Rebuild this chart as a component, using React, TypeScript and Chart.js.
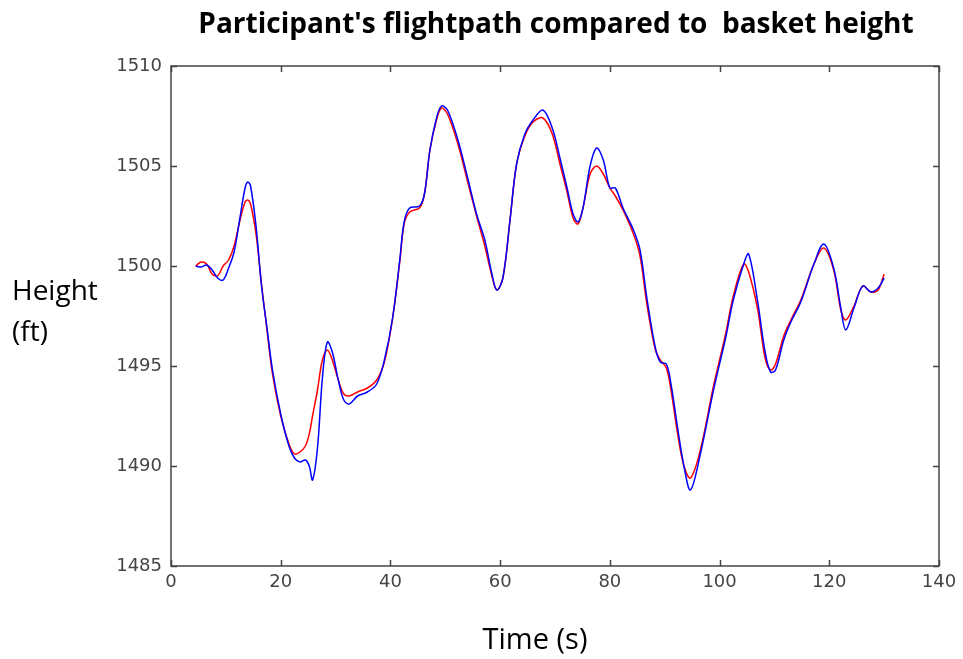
import React, { useEffect, useRef } from "react";
import { Chart, registerables } from "chart.js";

Chart.register(...registerables);

const timeS = [4.5, 5.5, 6.5, 7.5, 8.5, 9.5, 10.5, 11.5, 12.5, 13.5, 14.0, 14.5, 15.5, 16.5, 17.5, 18.5, 20, 21.5, 22.5, 23.5, 24.5, 25.2, 25.8, 26.7, 27.6, 28.5, 29.4, 30.5, 31.5, 32.5, 34, 35.8, 37.5, 38.9, 40.4, 41.7, 42.5, 43.5, 45.3, 46.2, 47.2, 48.4, 49.3, 50.4, 52.3, 53.9, 55.7, 57.2, 58.5, 59.4, 60.5, 61.8, 63, 64.5, 66, 67.8, 69.5, 70.9, 72.2, 73.3, 74.2, 75.1, 76.4, 77.6, 78.8, 80, 81, 82.4, 84.3, 85.5, 86.8, 88.3, 89.2, 90.3, 91.2, 92.3, 93.5, 94.7, 96.5, 98.9, 101.1, 102.5, 104.4, 105.3, 106.9, 108.3, 109.3, 110.2, 111.7, 113, 114.8, 117.2, 119, 120.8, 122.1, 123, 124.5, 126.1, 127.6, 128.9, 130];

const participantHeight = [1500.0, 1499.95, 1500.05, 1499.8, 1499.4, 1499.3, 1499.9, 1500.7, 1502.3, 1503.9, 1504.2, 1504.0, 1502.0, 1499.0, 1496.9, 1494.8, 1492.6, 1491.0, 1490.4, 1490.2, 1490.3, 1490.0, 1489.3, 1490.9, 1494.4, 1496.2, 1495.7, 1494.3, 1493.3, 1493.1, 1493.5, 1493.7, 1494.1, 1495.3, 1497.4, 1500.3, 1502.2, 1502.9, 1503.0, 1503.6, 1505.8, 1507.4, 1508.0, 1507.8, 1506.3, 1504.6, 1502.6, 1501.3, 1499.6, 1498.8, 1499.4, 1502.3, 1505.1, 1506.6, 1507.3, 1507.8, 1506.9, 1505.4, 1503.9, 1502.6, 1502.2, 1502.9, 1505.0, 1505.9, 1505.3, 1503.9, 1503.9, 1502.9, 1501.8, 1500.8, 1498.3, 1495.9, 1495.2, 1495.1, 1494.0, 1492.0, 1490.0, 1488.8, 1490.6, 1493.8, 1496.4, 1498.3, 1500.1, 1500.6, 1498.3, 1495.7, 1494.7, 1494.8, 1496.3, 1497.2, 1498.2, 1500.1, 1501.1, 1499.9, 1497.9, 1496.8, 1497.9, 1499.0, 1498.7, 1498.9, 1499.4];

const basketHeight = [1500.0, 1500.2, 1500.1, 1499.6, 1499.5, 1500.0, 1500.3, 1501.0, 1502.2, 1503.2, 1503.3, 1503.1, 1501.6, 1499.1, 1496.8, 1494.6, 1492.5, 1491.1, 1490.6, 1490.7, 1491.0, 1491.6, 1492.5, 1493.8, 1495.3, 1495.8, 1495.3, 1494.3, 1493.6, 1493.5, 1493.7, 1493.9, 1494.3, 1495.2, 1497.4, 1500.2, 1502.1, 1502.7, 1502.9, 1503.6, 1505.8, 1507.3, 1507.9, 1507.6, 1506.1, 1504.4, 1502.5, 1501.0, 1499.5, 1498.8, 1499.4, 1502.3, 1505.1, 1506.5, 1507.2, 1507.4, 1506.6, 1505.1, 1503.7, 1502.4, 1502.1, 1502.9, 1504.6, 1505.0, 1504.6, 1503.9, 1503.5, 1502.8, 1501.6, 1500.5, 1498.0, 1495.8, 1495.3, 1494.9, 1493.7, 1491.7, 1490.0, 1489.4, 1490.8, 1494.0, 1496.6, 1498.5, 1500.1, 1499.7, 1497.9, 1495.4, 1494.8, 1495.1, 1496.5, 1497.3, 1498.3, 1500.1, 1500.9, 1499.8, 1497.8, 1497.3, 1498.0, 1499.0, 1498.7, 1498.8, 1499.6];

const xTicks = [0, 20, 40, 60, 80, 100, 120, 140];
const yTicks = [1485, 1490, 1495, 1500, 1505, 1510];

const titleText = "Participant's flightpath compared to  basket height";
const xTitle = "Time (s)";
const yTitleLines = ["Height", "(ft)"];

const framePlugin = {
  id: "framePlugin",
  afterDraw(chart: any) {
    const ctx = chart.ctx;
    const { left, right, top, bottom } = chart.chartArea;
    const xs = chart.scales.x;
    const ys = chart.scales.y;
    ctx.save();
    ctx.strokeStyle = "#444";
    ctx.lineWidth = 1.5;
    ctx.strokeRect(left, top, right - left, bottom - top);
    const tl = 6;
    ctx.beginPath();
    xTicks.forEach((v) => {
      const px = Math.round(xs.getPixelForValue(v)) + 0.5;
      ctx.moveTo(px, bottom);
      ctx.lineTo(px, bottom - tl);
      ctx.moveTo(px, top);
      ctx.lineTo(px, top + tl);
    });
    yTicks.forEach((v) => {
      const py = Math.round(ys.getPixelForValue(v)) + 0.5;
      ctx.moveTo(left, py);
      ctx.lineTo(left + tl, py);
      ctx.moveTo(right, py);
      ctx.lineTo(right - tl, py);
    });
    ctx.stroke();

    ctx.fillStyle = "#000";
    ctx.textAlign = "center";
    ctx.textBaseline = "middle";
    ctx.font = "bold 28px 'Open Sans', sans-serif";
    ctx.fillText(titleText, 556, 25);
    ctx.font = "29px 'Open Sans', sans-serif";
    ctx.fillText(xTitle, 535, 641);
    ctx.textAlign = "left";
    ctx.font = "28px 'Open Sans', sans-serif";
    ctx.fillText(yTitleLines[0], 12, 292);
    ctx.fillText(yTitleLines[1], 12, 333);
    ctx.restore();
  },
};

export default function App() {
  const ref = useRef<HTMLCanvasElement | null>(null);
  useEffect(() => {
    document.body.style.margin = "0";
    const canvas = ref.current!;
    const chart = new Chart(canvas, {
      type: "scatter",
      data: {
        datasets: [
          {
            label: "Participant",
            data: timeS.map((t, i) => ({ x: t, y: participantHeight[i] })),
            showLine: true,
            borderColor: "#0000ff",
            borderWidth: 1.5,
            pointRadius: 0,
            tension: 0.35,
          },
          {
            label: "Basket",
            data: timeS.map((t, i) => ({ x: t, y: basketHeight[i] })),
            showLine: true,
            borderColor: "#ff0000",
            borderWidth: 1.5,
            pointRadius: 0,
            tension: 0.35,
          },
        ],
      },
      options: {
        animation: false,
        responsive: false,
        maintainAspectRatio: false,
        layout: { padding: { top: 66, right: 24, left: 0, bottom: 0 } },
        plugins: {
          legend: { display: false },
          tooltip: { enabled: false },
          title: { display: false },
        },
        scales: {
          x: {
            type: "linear",
            min: 0,
            max: 140,
            afterBuildTicks: (s: any) => {
              s.ticks = xTicks.map((v) => ({ value: v }));
            },
            afterFit: (s: any) => {
              s.height = 659 - 566;
            },
            grid: { display: false, drawTicks: false },
            border: { display: false },
            ticks: {
              padding: 6,
              color: "#444",
              font: { size: 18, family: "'DejaVu Sans', sans-serif" },
              maxRotation: 0,
              callback: (v: any) => String(v),
            },
          },
          y: {
            type: "linear",
            min: 1485,
            max: 1510,
            afterBuildTicks: (s: any) => {
              s.ticks = yTicks.map((v) => ({ value: v }));
            },
            afterFit: (s: any) => {
              s.width = 171;
            },
            grid: { display: false, drawTicks: false },
            border: { display: false },
            ticks: {
              padding: 9,
              color: "#444",
              font: { size: 18, family: "'DejaVu Sans', sans-serif" },
              callback: (v: any) => String(v),
            },
          },
        },
      },
      plugins: [framePlugin],
    } as any);
    return () => chart.destroy();
  }, []);
  return (
    <div style={{ width: 963, height: 659, background: "#fff" }}>
      <canvas ref={ref} width={963} height={659} style={{ display: "block" }} />
    </div>
  );
}
